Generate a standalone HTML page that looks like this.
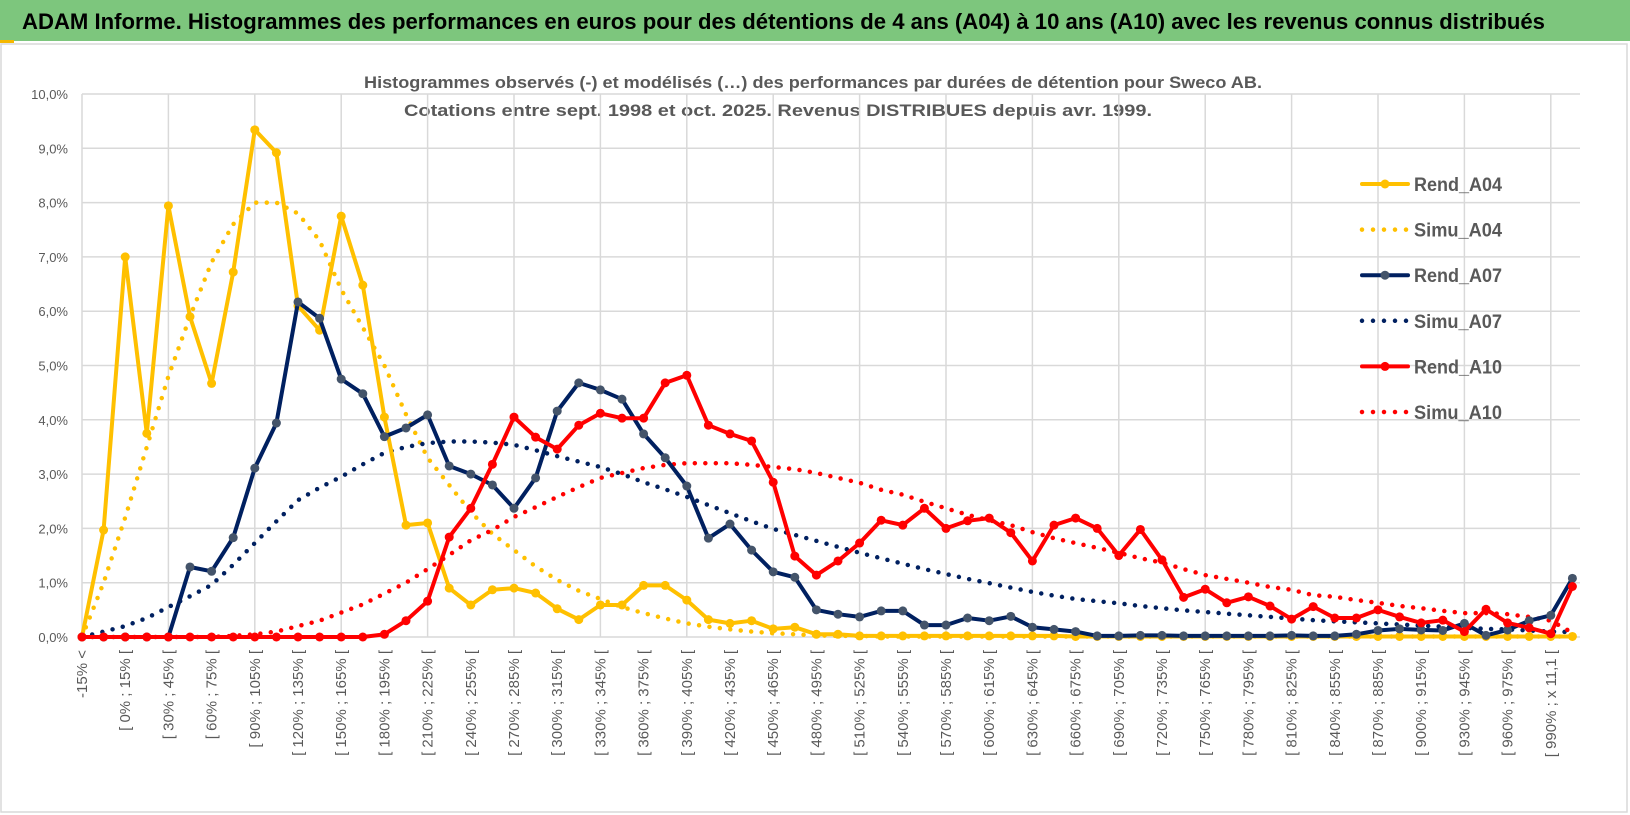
<!DOCTYPE html>
<html><head><meta charset="utf-8"><style>
html,body{margin:0;padding:0;background:#fff;}
svg{display:block;}
</style></head><body>
<svg id="chart" width="1630" height="815" xmlns="http://www.w3.org/2000/svg">
<rect x="0" y="0" width="1630" height="815" fill="#fff"/>
<rect x="0" y="0" width="1630" height="41" fill="#7dc67d"/>
<rect x="0" y="40" width="14" height="3" fill="#f5b800"/>
<text x="22" y="29" font-family="Liberation Sans, sans-serif" font-weight="bold" font-size="22" fill="#000" textLength="1523" lengthAdjust="spacingAndGlyphs">ADAM Informe. Histogrammes des performances en euros pour des détentions de 4 ans (A04) à 10 ans (A10) avec les revenus connus distribués</text>
<rect x="1" y="44" width="1626" height="768" fill="none" stroke="#d9d9d9" stroke-width="1.5"/>
<text x="813" y="88" text-anchor="middle" font-family="Liberation Sans, sans-serif" font-weight="bold" font-size="17" fill="#595959" textLength="898" lengthAdjust="spacingAndGlyphs">Histogrammes observés (-) et modélisés (…) des performances par durées de détention pour Sweco AB.</text>
<text x="778" y="116" text-anchor="middle" font-family="Liberation Sans, sans-serif" font-weight="bold" font-size="17" fill="#595959" textLength="748" lengthAdjust="spacingAndGlyphs">Cotations entre sept. 1998 et oct. 2025. Revenus DISTRIBUES depuis avr. 1999.</text>
<g id="grid"></g><g id="axes"></g><g id="series"></g><g id="legend"></g>
</svg>
<script>
const yTicks = [0,1,2,3,4,5,6,7,8,9,10];
const rendA04 = [0,1.97,7.0,3.75,7.94,5.9,4.67,6.72,9.34,8.92,6.1,5.65,7.75,6.48,4.05,2.06,2.1,0.9,0.59,0.87,0.9,0.81,0.52,0.32,0.59,0.59,0.95,0.95,0.68,0.32,0.25,0.3,0.15,0.18,0.05,0.05,0.02,0.02,0.02,0.02,0.02,0.02,0.02,0.02,0.02,0.02,0.01,0.01,0.01,0.01,0.01,0.01,0.01,0.01,0.01,0.01,0.01,0.01,0.01,0.01,0.01,0.01,0.01,0.01,0.01,0.01,0.01,0.01,0.01,0.01];
const simuA04 = [0,1.0,2.2,3.5,4.8,5.9,6.9,7.6,8.0,8.0,7.8,7.3,6.4,5.7,5.0,4.1,3.3,2.8,2.3,1.9,1.6,1.3,1.05,0.85,0.7,0.55,0.44,0.34,0.25,0.19,0.14,0.1,0.07,0.05,0.03,0.02,0.02,0.01,0.01,0.01,0.01,0.01,0.01,0.01,0.01,0.01,0.01,0.01,0.01,0.01,0.01,0.01,0.01,0.01,0.01,0.01,0.01,0.01,0.01,0.01,0.01,0.01,0.01,0.01,0.01,0.01,0.01,0.01,0.01,0.01];
const rendA07 = [0,0,0,0,0,1.29,1.21,1.83,3.11,3.94,6.17,5.87,4.75,4.48,3.69,3.85,4.09,3.15,3.0,2.8,2.37,2.93,4.16,4.68,4.55,4.38,3.74,3.3,2.78,1.82,2.08,1.6,1.2,1.1,0.5,0.42,0.37,0.48,0.48,0.22,0.22,0.35,0.3,0.38,0.18,0.14,0.1,0.02,0.02,0.03,0.03,0.02,0.02,0.02,0.02,0.02,0.03,0.02,0.02,0.05,0.12,0.15,0.13,0.12,0.25,0.03,0.13,0.3,0.4,1.08];
const simuA07 = [0,0.1,0.2,0.35,0.55,0.75,0.96,1.33,1.73,2.13,2.52,2.75,2.95,3.18,3.39,3.5,3.57,3.6,3.6,3.58,3.54,3.44,3.33,3.23,3.13,3.0,2.85,2.72,2.58,2.43,2.28,2.13,1.99,1.88,1.77,1.66,1.55,1.45,1.35,1.25,1.16,1.07,0.99,0.91,0.83,0.76,0.7,0.66,0.62,0.57,0.53,0.49,0.46,0.43,0.4,0.37,0.34,0.31,0.29,0.27,0.25,0.23,0.21,0.19,0.17,0.15,0.14,0.12,0.1,0.09];
const rendA10 = [0,0,0,0,0,0,0,0,0,0,0,0,0,0,0.05,0.3,0.66,1.84,2.37,3.18,4.05,3.68,3.46,3.9,4.12,4.03,4.03,4.68,4.82,3.9,3.74,3.61,2.85,1.49,1.14,1.4,1.73,2.15,2.06,2.37,2.0,2.14,2.19,1.92,1.4,2.06,2.19,2.0,1.5,1.98,1.42,0.73,0.88,0.63,0.74,0.57,0.33,0.56,0.35,0.35,0.5,0.37,0.26,0.31,0.1,0.51,0.26,0.17,0.06,0.93];
const simuA10 = [0,0,0,0,0,0,0,0.02,0.05,0.1,0.2,0.3,0.45,0.6,0.8,1.0,1.25,1.51,1.78,1.97,2.21,2.39,2.58,2.76,2.93,3.02,3.11,3.17,3.2,3.2,3.2,3.17,3.13,3.09,3.02,2.93,2.84,2.71,2.62,2.49,2.37,2.25,2.15,2.06,1.93,1.82,1.73,1.64,1.55,1.45,1.37,1.25,1.14,1.07,1.0,0.92,0.87,0.77,0.74,0.68,0.63,0.57,0.53,0.48,0.44,0.44,0.42,0.37,0.3,0.08];
const xLabels = [];
(function(){ xLabels.push("-15% <"); xLabels.push("[ -15% ; 0% ["); for(let v=0; v<=975; v+=15) xLabels.push("[ "+v+"% ; "+(v+15)+"% ["); xLabels.push("[ 990% ; x 11,1 ["); xLabels.push("x 11,1 <"); })();

const NS="http://www.w3.org/2000/svg";
const X0=82, DX=21.6, Y0=637, DY=54.3, XR=1580;
function xs(i){return X0+i*DX;}
function ys(v){return Y0-v*DY;}
function mk(tag,attrs,parent){const e=document.createElementNS(NS,tag);for(const k in attrs)e.setAttribute(k,attrs[k]);parent.appendChild(e);return e;}
const grid=document.getElementById('grid'), axes=document.getElementById('axes'), ser=document.getElementById('series'), leg=document.getElementById('legend');
const FONT="Liberation Sans, sans-serif";
yTicks.forEach(t=>{
  const l=mk('line',{x1:X0,x2:XR,y1:ys(t),y2:ys(t),stroke:'#d9d9d9','stroke-width':1.5},grid);
  
  
  const tx=mk('text',{x:68,y:ys(t)+5,'text-anchor':'end','font-family':FONT,'font-size':13,fill:'#595959'},axes);
  tx.textContent=t.toFixed(1).replace('.',',')+'%';
  
  
});
for(let i=0;i<rendA04.length;i+=4){
  const l=mk('line',{x1:xs(i),x2:xs(i),y1:ys(10),y2:Y0,stroke:'#d9d9d9','stroke-width':1.5},grid);
  
  
}
xLabels.forEach((s,i)=>{
  if(i%2) return;
  const tx=mk('text',{x:0,y:0,'text-anchor':'end','font-family':FONT,'font-size':15,fill:'#595959',transform:'translate('+(xs(i)+5)+',650) rotate(-90)'},axes);
  tx.textContent=s;
  
  
});
function pts(arr){return arr.map((v,i)=>xs(i).toFixed(1)+','+ys(v).toFixed(1)).join(' ');}
function dotted(arr,color,name){
  const p=mk('polyline',{points:pts(arr),fill:'none',stroke:color,'stroke-width':4.5,'stroke-linecap':'round','stroke-dasharray':'0 10.5'},ser);
  
  
}
function solid(arr,color,mcolor,name){
  const p=mk('polyline',{points:pts(arr),fill:'none',stroke:color,'stroke-width':4,'stroke-linejoin':'round'},ser);
  
  
  arr.forEach((v,i)=>{
    const c=mk('circle',{cx:xs(i),cy:ys(v),r:4.5,fill:mcolor},ser);
    
    
  });
}
dotted(simuA04,'#ffc000','simu-a04-line');
dotted(simuA07,'#002060','simu-a07-line');
dotted(simuA10,'#ff0000','simu-a10-line');
solid(rendA04,'#ffc000','#ffc000','rend-a04-line');
solid(rendA07,'#002060','#44546a','rend-a07-line');
solid(rendA10,'#ff0000','#ff0000','rend-a10-line');
const legItems=[['Rend_A04','#ffc000','#ffc000',0],['Simu_A04','#ffc000',null,1],['Rend_A07','#002060','#44546a',0],['Simu_A07','#002060',null,1],['Rend_A10','#ff0000','#ff0000',0],['Simu_A10','#ff0000',null,1]];
legItems.forEach((it,k)=>{
  const y=184+k*45.6;
  const g=mk('g',{},leg);
  
  
  if(it[3]){
    mk('line',{x1:1362,x2:1408,y1:y,y2:y,stroke:it[1],'stroke-width':4.5,'stroke-linecap':'round','stroke-dasharray':'0 11'},g);
  } else {
    mk('line',{x1:1362,x2:1408,y1:y,y2:y,stroke:it[1],'stroke-width':4,'stroke-linecap':'round'},g);
    mk('circle',{cx:1385,cy:y,r:4.5,fill:it[2]},g);
  }
  const t=mk('text',{x:1414,y:y+7,'font-family':'Liberation Sans Narrow, Liberation Sans, sans-serif','font-weight':'bold','font-size':19,fill:'#595959',textLength:88,lengthAdjust:'spacingAndGlyphs'},g);
  t.textContent=it[0];
});
</script>
</body></html>
